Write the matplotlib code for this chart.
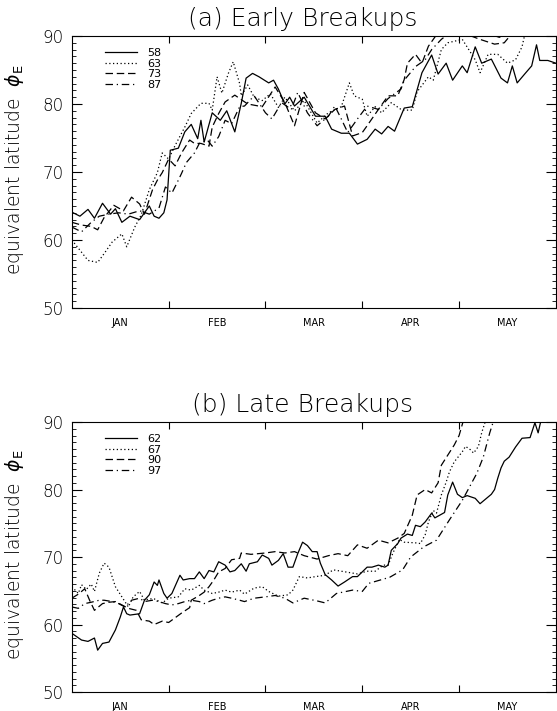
import matplotlib
matplotlib.use("Agg")
import matplotlib.pyplot as plt
from matplotlib.ticker import MultipleLocator

# x = days since 1 Jan, y = equivalent latitude (deg)
months = ["JAN", "FEB", "MAR", "APR", "MAY"]
month_edges = [30, 60, 90, 120]
month_mid = [15, 45, 75, 105, 135]

early_years = ["58", "63", "73", "87"]
late_years = ["62", "67", "90", "97"]

# ---- (a) early breakups
d58 = [0, 2.5, 5, 7, 9.5, 12, 13.5, 15.5, 18, 21, 22.5, 24, 25.5, 27, 28.5, 29.5, 30.5, 33, 35, 37,
       39, 40, 41, 43.5, 46, 48, 50.5, 52.5, 54, 56, 58, 61, 62.5, 64, 66, 67.5, 69, 72, 75.5, 78.5,
       80.5, 83.5, 86, 88.5, 91.5, 94, 96, 98, 100, 103, 105.5, 108.5, 111.5, 113.5, 116, 118, 121,
       122.5, 125, 127, 130, 133, 135, 136.5, 138, 140.5, 142.5, 144, 145, 147.5, 150]
v58 = [64.1, 63.5, 64.5, 63.2, 65.4, 63.8, 64.6, 62.6, 63.5, 63.0, 64.0, 65.0, 63.5, 63.2, 64.0, 65.9,
       73.2, 73.5, 75.9, 77.0, 74.9, 77.6, 74.4, 78.7, 77.6, 79.0, 75.9, 80.1, 83.8, 84.5, 84.0, 83.1,
       83.5, 82.2, 80.0, 81.0, 79.7, 81.0, 78.2, 78.2, 76.3, 75.7, 75.7, 74.1, 74.8, 76.3, 75.6, 76.7,
       76.0, 79.4, 79.6, 84.6, 87.2, 84.4, 86.0, 83.5, 85.6, 84.6, 88.4, 86.0, 86.6, 83.8, 83.1, 85.6,
       83.1, 84.5, 85.6, 88.7, 86.4, 86.4, 86.0]

d63 = [0, 2.5, 5, 8, 10, 12.5, 15.5, 17, 19.5, 21.5, 24, 26.5, 28, 30, 32, 35, 37, 40, 42.5, 43.5,
       45, 46.5, 48.5, 50, 52, 52.5, 54.5, 56.5, 59, 61.5, 64, 66, 69, 72, 76, 79.5, 83.5, 86, 87.5,
       90, 91.5, 94, 96, 99, 102, 103, 105.5, 107, 110.5, 112, 114.5, 116.5, 121, 125, 126.5, 129,
       132, 135, 137.5, 139.5, 140.5, 143.5, 150]
v63 = [60.0, 58.5, 57.0, 56.7, 58.0, 59.7, 60.9, 59.0, 61.9, 63.7, 67.4, 69.9, 72.8, 71.9, 73.9, 76.6,
       78.6, 80.1, 80.1, 79.1, 84.0, 81.6, 84.5, 86.2, 83.0, 81.2, 82.8, 81.0, 80.5, 81.5, 79.5, 81.0,
       79.0, 80.5, 77.2, 78.7, 79.6, 83.1, 81.2, 80.7, 78.2, 79.6, 78.7, 80.2, 79.2, 79.1, 79.1, 81.8,
       84.0, 83.5, 88.0, 89.0, 89.5, 86.5, 84.6, 87.3, 87.3, 86.0, 86.5, 88.4, 90.5, 92.0, 92.0]

d73 = [0, 3, 6, 8, 10, 13, 16, 18.5, 21, 22.5, 25, 26.5, 28, 30, 32, 34, 36.5, 38, 40, 42.5, 43.5,
       45.5, 47.5, 50.5, 52, 54.5, 59, 63, 66, 69, 72, 75.5, 78.5, 81.5, 84.5, 87, 90, 91.5, 95, 98,
       101, 103, 104, 106.5, 108.5, 110.5, 113.5, 117, 122, 126.5, 131, 134, 137.5, 150]
v73 = [62.6, 62.2, 62.0, 61.5, 63.3, 65.1, 64.3, 66.3, 65.3, 63.8, 67.4, 68.8, 69.9, 71.9, 70.9, 72.8,
       74.7, 74.2, 74.2, 73.8, 76.6, 78.6, 80.3, 81.3, 80.8, 80.0, 79.6, 82.5, 80.2, 76.8, 81.7, 78.7,
       77.8, 79.2, 79.7, 75.3, 75.8, 76.8, 79.2, 81.2, 81.2, 83.6, 86.0, 87.3, 86.0, 88.5, 90.5, 91.0,
       90.3, 89.5, 88.8, 89.0, 91.0, 92.0]

d87 = [0, 3, 6, 8.5, 11.5, 14.5, 17.5, 21, 24, 27, 29, 31, 33, 34, 35.5, 38, 39.5, 42, 43.5, 45.5,
       47.5, 49.5, 52, 53.5, 56.5, 60, 62, 65, 68, 70, 73, 76, 79.5, 81.5, 83.5, 85.5, 88.5, 91.5, 95,
       98, 102, 103, 106.5, 109.5, 111.5, 114.5, 118.5, 123.5, 128, 132.5, 137.5, 150]
v87 = [61.9, 61.2, 62.6, 63.5, 63.8, 64.0, 63.8, 64.3, 63.8, 64.7, 67.8, 66.9, 68.8, 69.8, 71.4, 72.8,
       74.2, 74.7, 73.8, 75.2, 77.6, 77.1, 79.6, 79.7, 81.2, 78.7, 77.8, 80.2, 79.2, 81.7, 78.7, 76.8,
       78.2, 79.7, 77.8, 75.8, 77.8, 79.7, 79.2, 80.8, 82.2, 83.5, 85.5, 86.5, 88.0, 89.5, 91.0, 90.0,
       90.5, 89.8, 91.5, 92.0]

# ---- (b) late breakups
d62 = [0, 3, 5, 7, 8, 9.5, 11.5, 13.5, 15, 16, 17, 18, 21, 22.5, 24, 25.5, 26.5, 27, 28.5, 29.5, 31,
       33.5, 34.5, 36.5, 38, 39.5, 41, 42.5, 44, 45.5, 47.5, 49, 50.5, 52.5, 54, 55, 57.5, 59, 61, 62,
       64, 65.5, 67, 68.5, 70, 71.5, 73, 74.5, 76, 77, 78.5, 80.5, 82.5, 84.5, 87, 88.5, 90, 91.5, 93,
       95, 97, 98, 99, 101, 102, 104, 105.5, 106.5, 108, 109.5, 111.5, 112.5, 114, 115.5, 116.5, 118,
       119.5, 121, 122.5, 125, 126.5, 128, 130, 131, 132, 133, 134, 135.5, 137.5, 139.5, 142, 143.5,
       144.5, 145.5, 150]
v62 = [58.7, 57.7, 57.5, 58.0, 56.2, 57.2, 57.4, 59.2, 61.1, 62.6, 61.6, 61.4, 61.6, 63.6, 64.4, 66.3,
       65.8, 66.6, 64.6, 63.9, 64.6, 67.3, 66.6, 66.8, 66.8, 67.8, 66.8, 68.0, 67.8, 69.3, 68.8, 67.8,
       68.0, 69.0, 67.9, 69.0, 69.3, 70.3, 69.8, 68.8, 69.5, 70.5, 68.5, 68.5, 70.5, 72.2, 71.7, 70.8,
       70.8, 69.1, 67.4, 66.6, 65.7, 66.3, 67.1, 67.1, 67.8, 68.5, 68.5, 68.8, 68.5, 68.8, 71.0, 72.0,
       72.8, 73.4, 73.2, 74.7, 74.5, 75.2, 76.5, 75.8, 76.2, 76.6, 79.2, 81.1, 79.3, 78.8, 79.1, 78.7,
       77.9, 78.5, 79.3, 80.0, 81.7, 83.2, 84.2, 84.8, 86.3, 87.6, 87.7, 89.9, 88.4, 90.5, 92.0]

d67 = [0, 2, 3, 4.5, 6, 7, 8.5, 10, 11.5, 13.5, 15.5, 17.5, 19, 21, 22.5, 24, 25.5, 28, 30, 33, 35,
       37, 39.5, 41, 43.5, 45.5, 47.5, 49.5, 52, 53.5, 56.5, 59, 61, 64, 67, 68.5, 70.5, 73, 75.5,
       78.5, 81, 83.5, 86, 88.5, 91.5, 94, 96.5, 98, 99.5, 101.5, 103, 106.5, 108, 109.5, 110.5, 112,
       113, 114.5, 116, 117, 118.5, 121, 122, 123.5, 124.5, 126, 127, 128, 129.5, 150]
v67 = [65.6, 64.6, 65.9, 65.2, 66.0, 64.9, 67.6, 69.1, 68.5, 65.6, 64.1, 62.6, 64.1, 64.9, 63.6, 63.8,
       63.8, 63.2, 63.9, 64.1, 65.3, 65.1, 65.8, 65.1, 64.6, 64.8, 65.1, 64.8, 65.1, 64.5, 65.4, 65.6,
       64.9, 64.2, 64.4, 65.1, 67.1, 66.9, 67.1, 67.3, 68.1, 67.9, 67.7, 67.5, 67.9, 67.9, 68.8, 68.8,
       70.6, 72.6, 72.2, 72.1, 72.0, 73.3, 75.2, 76.9, 76.5, 79.2, 81.1, 82.6, 84.1, 85.6, 86.4, 85.9,
       85.4, 86.4, 88.4, 89.9, 91.5, 93.0]

d90 = [0, 2, 4, 5.5, 7, 9.5, 11.5, 13.5, 15.5, 17.5, 20, 21.5, 24, 25.5, 28, 30, 32, 34, 36.5, 37,
       39.5, 41, 42.5, 44, 45.5, 47.5, 49.5, 52, 52.5, 55.5, 60, 63, 66, 69, 72, 76, 79.5, 82.5, 85.5,
       88.5, 91.5, 95, 98, 101, 103, 105.5, 107, 109.5, 111.5, 113.5, 114.5, 116.5, 118.5, 120, 121.5,
       150]
v90 = [63.9, 64.5, 65.3, 63.6, 62.1, 63.1, 63.3, 63.4, 62.9, 62.4, 62.1, 60.7, 60.5, 60.0, 60.5, 60.3,
       61.0, 61.7, 62.5, 63.6, 64.3, 64.8, 65.6, 66.6, 67.8, 68.3, 69.6, 69.8, 70.6, 70.4, 70.6, 70.8,
       70.6, 70.8, 70.2, 69.7, 70.2, 70.5, 70.2, 71.8, 71.3, 72.5, 72.1, 72.8, 73.5, 76.2, 79.2, 80.0,
       79.5, 81.0, 83.6, 85.1, 86.6, 88.0, 90.5, 94.0]

d97 = [0, 2, 4, 6, 8.5, 10, 12.5, 14.5, 16.5, 18.5, 21, 22.5, 25, 27, 29, 31, 33, 35, 37, 39.5, 41,
       43.5, 45.5, 47.5, 49.5, 52, 53.5, 56.5, 60, 63, 66, 68.5, 72, 76, 78.5, 82, 87, 90, 92, 98.5,
       102.5, 105, 109, 113, 117, 121, 125.5, 127.5, 129.5, 130.5, 132.5, 150]
v97 = [62.6, 62.4, 63.1, 63.3, 63.6, 63.6, 63.4, 63.1, 62.6, 63.6, 63.9, 63.4, 63.6, 63.4, 63.1, 62.9,
       63.1, 63.4, 63.6, 63.4, 63.1, 63.6, 63.9, 64.1, 63.9, 63.6, 63.4, 63.9, 64.1, 64.3, 63.9, 63.2,
       63.9, 63.5, 63.2, 64.6, 65.1, 64.9, 66.1, 67.0, 68.1, 70.0, 71.5, 72.5, 75.5, 78.4, 82.4, 84.8,
       88.4, 89.9, 92.0, 94.0]

early = [(d58, v58), (d63, v63), (d73, v73), (d87, v87)]
late = [(d62, v62), (d67, v67), (d90, v90), (d97, v97)]
styles = ["-", (0, (1, 2)), (0, (6, 3)), (0, (6, 3, 1, 3))]


def panel(ax, series, years, title):
    for (d, v), ls, yr in zip(series, styles, years):
        ax.plot(d, v, color="black", lw=0.9, linestyle=ls, label=yr)
    ax.set_xlim(0, 150)
    ax.set_ylim(50, 90)
    ax.set_xticks(month_edges)
    ax.set_xticklabels([])
    ax.set_xticks(month_mid, minor=True)
    ax.set_xticklabels(months, minor=True, fontsize=7)
    ax.tick_params(axis="x", which="major", direction="in", length=5, width=0.8,
                   top=True, bottom=True)
    ax.tick_params(axis="x", which="minor", length=0, pad=7)
    ax.set_yticks([50, 60, 70, 80, 90])
    ax.yaxis.set_minor_locator(MultipleLocator(1))
    ax.tick_params(axis="y", which="major", direction="in", length=7, width=0.8,
                   left=True, right=True, labelsize=12, pad=6)
    ax.tick_params(axis="y", which="minor", direction="in", length=3, width=0.6,
                   left=True, right=True)
    for lbl in ax.get_yticklabels():
        lbl.set_fontweight("light")
    for s in ax.spines.values():
        s.set_linewidth(0.8)
    ax.set_ylabel(r"equivalent latitude  $\phi_{\rm E}$", fontsize=13.5, fontweight="light")
    ax.yaxis.set_label_coords(-0.095, 0.51)
    ax.set_title(title, fontsize=18, pad=7, x=0.476, fontweight="light")
    ax.legend(loc="upper left", bbox_to_anchor=(0.068, 0.955), frameon=False,
              fontsize=8, handlelength=2.9, handletextpad=0.9, labelspacing=0.05,
              borderpad=0, borderaxespad=0)


fig = plt.figure(figsize=(5.57, 7.11), dpi=100)
ax1 = fig.add_axes([0.129, 0.5668, 0.869, 0.3826])
ax2 = fig.add_axes([0.129, 0.0267, 0.869, 0.3797])
panel(ax1, early, early_years, "(a) Early Breakups")
panel(ax2, late, late_years, "(b) Late Breakups")

fig.savefig("out.png", dpi=100)
